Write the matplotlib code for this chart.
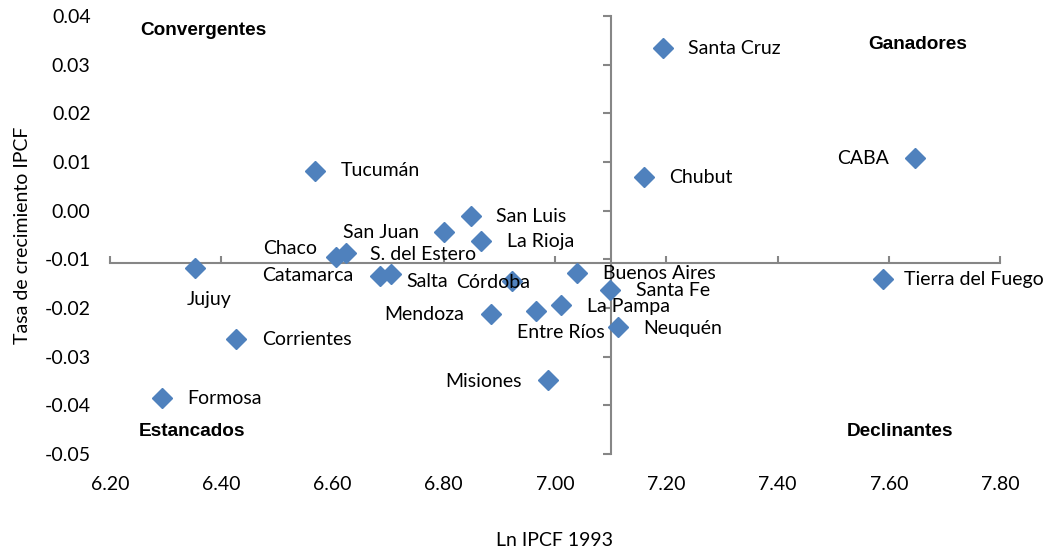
import numpy as np
import matplotlib
matplotlib.use('Agg')
import matplotlib.pyplot as plt

#-------------------------------------
# Data: provinces, Ln IPCF 1993 and growth rate
#-------------------------------------
provincias = ['Santa Cruz', 'CABA', 'Chubut', 'Tucumán', 'San Luis', 'San Juan',
              'La Rioja', 'Chaco', 'S. del Estero', 'Jujuy', 'Catamarca', 'Salta',
              'Córdoba', 'Buenos Aires', 'Santa Fe', 'La Pampa', 'Entre Ríos',
              'Mendoza', 'Neuquén', 'Tierra del Fuego', 'Corrientes', 'Misiones',
              'Formosa']
ln_ipcf = [7.194, 7.647, 7.160, 6.569, 6.849, 6.800,
           6.867, 6.606, 6.624, 6.353, 6.685, 6.705,
           6.922, 7.040, 7.099, 7.011, 6.966,
           6.885, 7.113, 7.590, 6.427, 6.987,
           6.293]
tasa = [0.0334, 0.0108, 0.0069, 0.0082, -0.0011, -0.0044,
        -0.0063, -0.0095, -0.0087, -0.0118, -0.0134, -0.0130,
        -0.0145, -0.0128, -0.0163, -0.0194, -0.0206,
        -0.0212, -0.0240, -0.0140, -0.0263, -0.0348,
        -0.0384]

x_cross = 7.10
y_cross = -0.0107

# label offsets in pixels (dx, dy) and alignment
lab_pos = {
    'Santa Cruz': (25, 0, 'left'), 'CABA': (-26, 0, 'right'), 'Chubut': (25, 0, 'left'),
    'Tucumán': (25, 0, 'left'), 'San Luis': (25, 0, 'left'), 'San Juan': (-25, 0, 'right'),
    'La Rioja': (26, 0, 'left'), 'Chaco': (-19, 8, 'right'), 'S. del Estero': (24, -1, 'left'),
    'Jujuy': (14, -31, 'center'), 'Catamarca': (-26, 0, 'right'), 'Salta': (15, -8, 'left'),
    'Córdoba': (19, -1, 'right'), 'Buenos Aires': (26, -1, 'left'), 'Santa Fe': (26, -1, 'left'),
    'La Pampa': (26, -1, 'left'), 'Entre Ríos': (25, -22, 'center'), 'Mendoza': (-27, -1, 'right'),
    'Neuquén': (25, -1, 'left'), 'Tierra del Fuego': (21, -1, 'left'),
    'Corrientes': (26, -1, 'left'), 'Misiones': (-26, -1, 'right'), 'Formosa': (26, -1, 'left'),
}

plt.rcParams['font.family'] = ['Lato', 'DejaVu Sans']

fig = plt.figure(figsize=(10.49, 5.5), dpi=100)
pos = [110/1049, 96/550, 890/1049, 438/550]
ax = fig.add_axes(pos)
ax.set_xlim(6.2, 7.8)
ax.set_ylim(-0.05, 0.04)

ax.plot(ln_ipcf, tasa, linestyle='none', marker='D', markersize=10,
        color='#4F81BD', markeredgecolor='#4F81BD', zorder=3)

for name, xv, yv in zip(provincias, ln_ipcf, tasa):
    dx, dy, ha = lab_pos[name]
    ax.annotate(name, (xv, yv), xytext=(dx, dy), textcoords='offset pixels',
                ha=ha, va='center', fontsize=14, color='black', zorder=4)

# axes crossing in the middle
axis_col = '#868686'
for s in ['top', 'right']:
    ax.spines[s].set_visible(False)
ax.spines['left'].set_position(('data', x_cross))
ax.spines['bottom'].set_position(('data', y_cross))
for s in ['left', 'bottom']:
    ax.spines[s].set_color(axis_col)
    ax.spines[s].set_linewidth(1.5)
ax.set_xticks(np.arange(6.2, 7.81, 0.2))
ax.set_yticks(np.arange(-0.05, 0.041, 0.01))
ax.tick_params(axis='x', direction='in', length=5, width=1.5, color=axis_col, labelbottom=False)
ax.tick_params(axis='y', direction='out', length=6, width=1.5, color=axis_col, labelleft=False)

# overlay axes only for tick labels at the edges
ax2 = fig.add_axes(pos, sharex=ax, sharey=ax, frameon=False)
ax2.patch.set_visible(False)
ax2.tick_params(axis='both', length=0, labelsize=14)
ax2.tick_params(axis='x', pad=16)
ax2.tick_params(axis='y', pad=14)
ax2.xaxis.set_major_formatter(matplotlib.ticker.FormatStrFormatter('%.2f'))
ax2.yaxis.set_major_formatter(matplotlib.ticker.FormatStrFormatter('%.2f'))
ax2.set_xlabel('Ln IPCF 1993', fontsize=14, labelpad=28)
ax2.set_ylabel('Tasa de crecimiento IPCF', fontsize=14, labelpad=10)

qfont = dict(family='Liberation Sans', fontweight='bold', fontsize=13.7, ha='center', va='center')
ax.text(0.1045, 0.966, 'Convergentes', transform=ax.transAxes, **qfont)
ax.text(0.908, 0.936, 'Ganadores', transform=ax.transAxes, **qfont)
ax.text(0.092, 0.0525, 'Estancados', transform=ax.transAxes, **qfont)
ax.text(0.888, 0.0525, 'Declinantes', transform=ax.transAxes, **qfont)

fig.savefig('out.png', dpi=100)
